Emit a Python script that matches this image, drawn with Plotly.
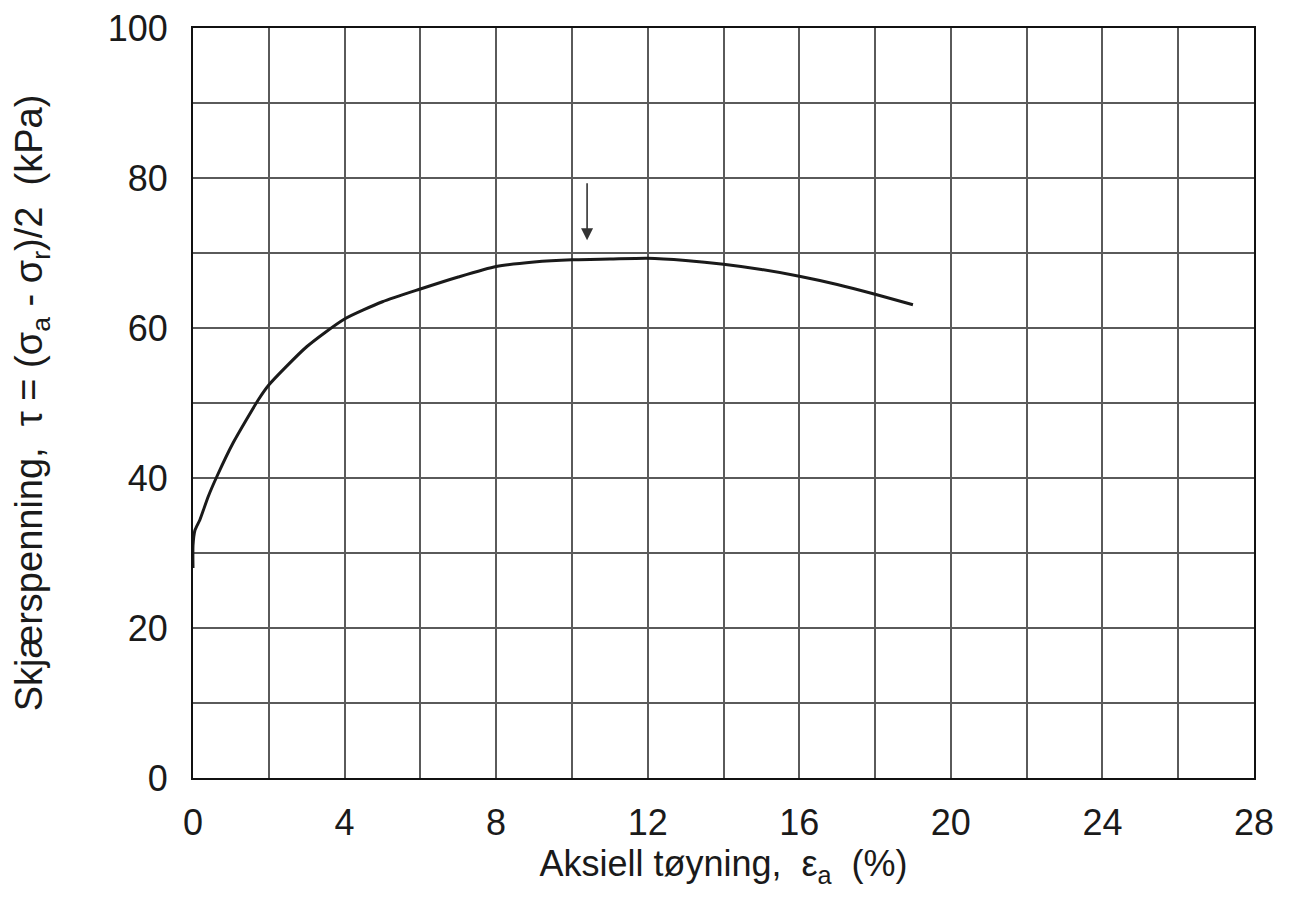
import plotly.graph_objects as go

# Data
strain = [0, 0, 0.05, 0.18, 0.4, 0.63, 1.06, 1.72, 2, 3, 4, 5, 6, 7, 8, 9,
          10, 11, 12, 13, 14, 15, 16, 17, 18, 19]
shear = [28, 31, 33, 34.4, 37.5, 40.2, 44.7, 50.4, 52.4, 57.5, 61.2, 63.5,
         65.2, 66.8, 68.2, 68.8, 69.1, 69.2, 69.3, 69.0, 68.5, 67.8, 66.9,
         65.8, 64.5, 63.1]
arrow_x = 10.4
arrow_tip_y = 71.7
arrow_tail_y = 79.5

FONT = "Liberation Sans, Arial, sans-serif"
NB = "\u00a0"

fig = go.Figure()
fig.add_trace(go.Scatter(x=strain, y=shear, mode="lines",
                         line=dict(color="#1a1a1a", width=3, shape="spline", smoothing=0.6),
                         showlegend=False, hoverinfo="skip"))

fig.add_annotation(x=arrow_x, y=arrow_tip_y, ax=arrow_x, ay=arrow_tail_y,
                   xref="x", yref="y", axref="x", ayref="y", text="",
                   showarrow=True, arrowhead=2, arrowsize=1.5, arrowwidth=1.6,
                   arrowcolor="#333333")

grid_col = "#5a5a5a"
fig.update_xaxes(range=[0, 28], dtick=4, tick0=0, showgrid=True, gridcolor=grid_col,
                 gridwidth=1.5, minor=dict(dtick=2, showgrid=True, gridcolor=grid_col, gridwidth=1.5),
                 showline=True, linecolor="#111111", linewidth=2, mirror=True,
                 zeroline=False, ticks="", ticklabelstandoff=12, ticklabeloverflow="allow",
                 automargin=False,
                 tickfont=dict(family=FONT, size=36, color="#1a1a1a"),
                 title=dict(text="Aksiell tøyning," + NB * 2 + "ε<sub>a</sub>" + NB * 2 + "(%)",
                            standoff=6, font=dict(family=FONT, size=36, color="#1a1a1a")))
fig.update_yaxes(range=[0, 100], dtick=20, tick0=0, showgrid=True, gridcolor=grid_col,
                 gridwidth=1.5, minor=dict(dtick=10, showgrid=True, gridcolor=grid_col, gridwidth=1.5),
                 showline=True, linecolor="#111111", linewidth=2, mirror=True,
                 zeroline=False, ticks="", ticklabelstandoff=16, ticklabeloverflow="allow",
                 automargin=False,
                 tickfont=dict(family=FONT, size=36, color="#1a1a1a"),
                 title=dict(text="Skjærspenning," + NB * 2 + "τ = (σ<sub>a</sub> - σ<sub>r</sub>)/2" + NB * 2 + "(kPa)",
                            standoff=62, font=dict(family=FONT, size=38, color="#1a1a1a")))

fig.update_layout(width=1290, height=910, autosize=False,
                  margin=dict(l=185, r=44, t=20, b=140),
                  paper_bgcolor="white", plot_bgcolor="white",
                  font=dict(family=FONT))

fig.write_html("out.html")
